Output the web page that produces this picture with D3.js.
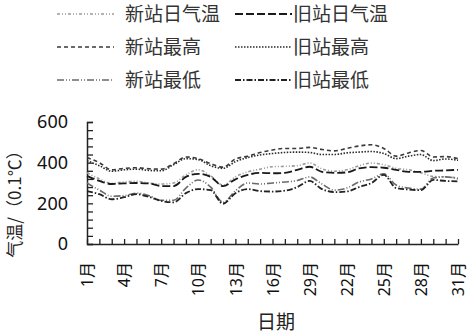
<!DOCTYPE html>
<html>
<head>
<meta charset="utf-8">
<script src="https://cdn.jsdelivr.net/npm/d3@7"></script>
<style>
body { margin: 0; background: #fff; }
text { font-family: "Noto Sans", "Noto Sans CJK SC", sans-serif; }
</style>
</head>
<body>
<div id="chart"></div>
<script>
// days of month
var days = d3.range(1, 32);
// tick labels as printed (the "29月" is in the original)
var tickDays = [1, 4, 7, 10, 13, 16, 19, 22, 25, 28, 31];
var tickLabels = ["1月", "4月", "7月", "10月", "13月", "16月", "29月", "22月", "25月", "28月", "31月"];
var yLabels = [0, 200, 400, 600];

var seriesNames = ["新站日气温", "旧站日气温", "新站最高", "旧站最高", "新站最低", "旧站最低"];

var newMean = [350, 320, 298, 305, 308, 300, 295, 300, 340, 365, 335, 290, 330, 355, 368, 380, 382, 385, 398, 370, 358, 365, 385, 398, 390, 372, 365, 350, 332, 330, 325];
var oldMean = [335, 310, 295, 298, 300, 298, 285, 285, 330, 345, 330, 285, 318, 340, 350, 348, 350, 365, 380, 355, 350, 352, 372, 378, 375, 365, 355, 355, 360, 362, 365];
var newMax  = [425, 400, 365, 372, 375, 370, 368, 395, 428, 420, 395, 378, 418, 432, 450, 462, 470, 470, 475, 465, 458, 470, 482, 488, 470, 432, 448, 460, 428, 430, 420];
var oldMax  = [410, 385, 358, 365, 368, 362, 360, 390, 420, 415, 385, 372, 405, 425, 438, 445, 450, 452, 450, 440, 440, 448, 452, 455, 445, 420, 432, 440, 410, 418, 412];
var newMin  = [300, 265, 235, 238, 250, 238, 215, 215, 275, 315, 280, 205, 262, 300, 295, 300, 305, 312, 330, 295, 265, 275, 305, 320, 345, 290, 275, 270, 325, 330, 320];
var oldMin  = [260, 245, 220, 230, 245, 232, 212, 205, 250, 270, 265, 198, 250, 270, 260, 258, 262, 280, 310, 270, 255, 258, 280, 300, 340, 275, 268, 265, 315, 310, 308];

var allSeries = [newMean, oldMean, newMax, oldMax, newMin, oldMin];

// line looks (dash, colour) in legend order
var looks = [
    {dash: "3,2,1,2,1,2", color: "#9a9a9a", w: 1.6},
    {dash: "8,3", color: "#1a1a1a", w: 1.8},
    {dash: "4,3", color: "#3a3a3a", w: 1.6},
    {dash: "1.5,1.5", color: "#2a2a2a", w: 1.6},
    {dash: "7,2,1,2,1,2", color: "#6a6a6a", w: 1.6},
    {dash: "6,2,1.5,2", color: "#222", w: 1.8}
];

var svgWidth = 472;
var svgHeight = 335;

var svg = d3.select("#chart")
    .append("svg")
    .attr("width", svgWidth)
    .attr("height", svgHeight);

var x = d3.scalePoint()
    .domain(days)
    .range([87, 458]);

var y = d3.scaleLinear()
    .domain([0, 600])
    .range([244, 122]);

// y axis, ticks pointing inward every 40
var yAxis = svg.append("g")
    .attr("transform", "translate(87,0)")
    .call(d3.axisLeft(y)
        .tickValues(d3.range(0, 601, 40))
        .tickSize(-6)
        .tickPadding(19)
        .tickFormat(d => yLabels.indexOf(d) >= 0 ? d : ""));
yAxis.selectAll("line").attr("stroke", "#222").attr("stroke-width", 1.3);
yAxis.select(".domain").attr("stroke", "#222").attr("stroke-width", 1.5);
yAxis.selectAll("text").attr("font-size", 18).attr("fill", "#111");

// x axis
var xAxis = svg.append("g")
    .attr("transform", "translate(0,244)")
    .call(d3.axisBottom(x)
        .tickSize(-5)
        .tickSizeOuter(0)
        .tickFormat(d => {
            var i = tickDays.indexOf(d);
            return i >= 0 ? tickLabels[i] : "";
        }));
xAxis.selectAll("line").attr("stroke", "#222").attr("stroke-width", 1.3);
xAxis.select(".domain").attr("stroke", "#222").attr("stroke-width", 1.5);
xAxis.selectAll("text")
    .attr("font-size", 16)
    .attr("fill", "#111")
    .attr("text-anchor", "end")
    .attr("transform", "rotate(-90)")
    .attr("x", -18)
    .attr("y", 0)
    .attr("dy", "0.35em");

// lines
var line = d3.line()
    .x((d, i) => x(days[i]))
    .y(d => y(d))
    .curve(d3.curveMonotoneX);

allSeries.forEach(function(s, k) {
    svg.append("path")
        .datum(s)
        .attr("d", line)
        .attr("fill", "none")
        .attr("stroke", looks[k].color)
        .attr("stroke-width", looks[k].w)
        .attr("stroke-dasharray", looks[k].dash);
});

// axis titles
svg.append("text")
    .attr("x", 276)
    .attr("y", 329)
    .attr("text-anchor", "middle")
    .attr("font-size", 19)
    .attr("fill", "#222")
    .text("日期");

svg.append("text")
    .attr("transform", "translate(21,200) rotate(-90)")
    .attr("text-anchor", "middle")
    .attr("font-size", 17)
    .attr("fill", "#222")
    .style("font-family", "'Noto Sans CJK SC', sans-serif")
    .text("气温/（0.1℃）");

// legend: two columns, three rows
var legend = svg.append("g");
seriesNames.forEach(function(name, k) {
    var col = k % 2;
    var row = Math.floor(k / 2);
    var lx = col === 0 ? 57 : 235;
    var ly = 14 + row * 33;
    legend.append("line")
        .attr("x1", lx).attr("x2", lx + 57)
        .attr("y1", ly).attr("y2", ly)
        .attr("stroke", looks[k].color)
        .attr("stroke-width", looks[k].w)
        .attr("stroke-dasharray", looks[k].dash);
    legend.append("text")
        .attr("x", col === 0 ? lx + 68 : lx + 58)
        .attr("y", ly)
        .attr("dy", "0.36em")
        .attr("font-size", 19)
        .attr("fill", "#333")
        .text(name);
});
</script>
</body>
</html>
